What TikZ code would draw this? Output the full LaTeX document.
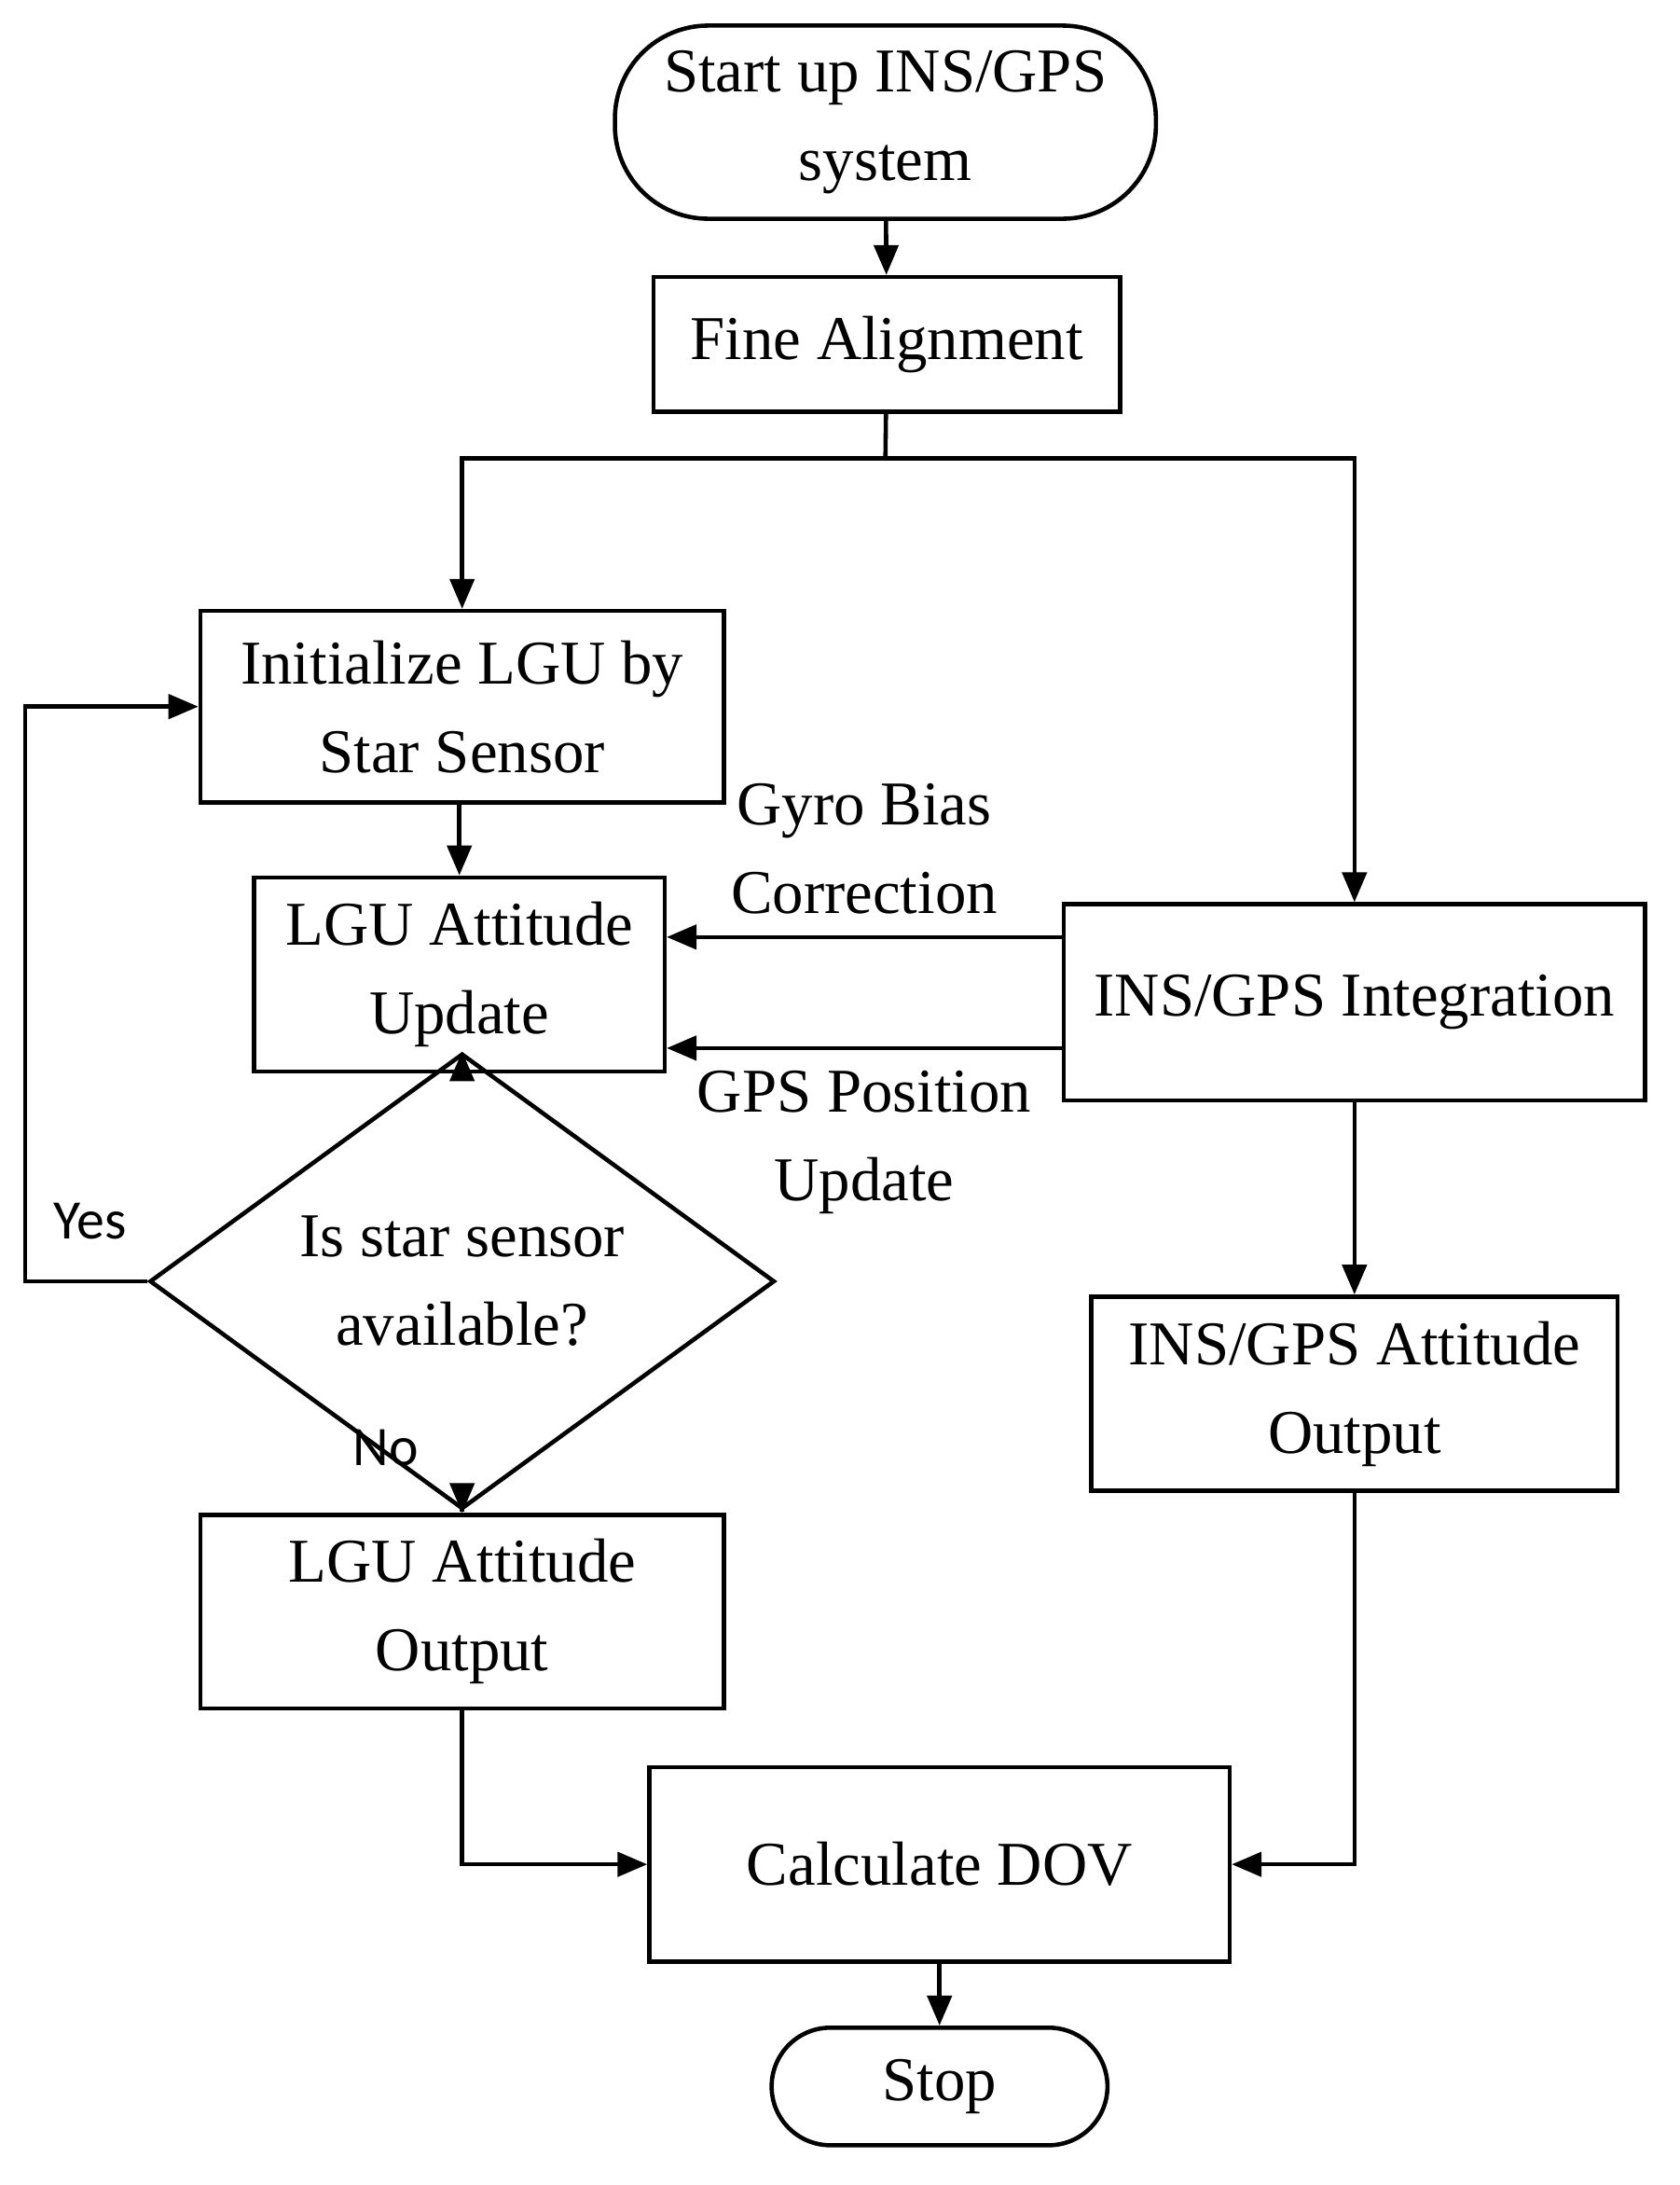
\documentclass[tikz,border=0pt]{standalone}
\usepackage{fontspec}
\setmainfont{Liberation Serif}
\newfontfamily\yesno{Carlito}
\usetikzlibrary{shapes.geometric, arrows.meta, positioning}

\begin{document}
\begin{tikzpicture}[x=0.01488cm, y=-0.01488cm, >={Triangle[length=3.2mm, width=2.6mm]}, line width=1.3pt]
    % Styles
    \tikzset{
        box/.style = {rectangle, draw, align=center, font=\fontsize{19}{27}\selectfont, inner sep=0pt},
        term/.style = {box, rounded corners=1cm},
        decision/.style = {diamond, draw, align=center, font=\fontsize{19}{27}\selectfont, inner sep=0pt},
        arrow/.style = {draw, ->},
        side/.style = {font=\fontsize{19}{27}\selectfont, align=center},
        answer/.style = {font=\yesno\fontsize{17}{20}\selectfont}
    }
    \useasboundingbox (0,0) rectangle (1210,1574);

    % Nodes
    \node[term, minimum width=5.80cm, minimum height=2.07cm] (start) at (638,88) {Start up INS/GPS\\system};
    \node[box, minimum width=5.00cm, minimum height=1.44cm] (fine) at (639,248) {Fine Alignment};
    \node[box, minimum width=5.61cm, minimum height=2.05cm] (init) at (333,509) {Initialize LGU by\\Star Sensor};
    \node[box, minimum width=4.40cm, minimum height=2.08cm] (update) at (331,702) {LGU Attitude\\Update};
    \node[box, minimum width=6.23cm, minimum height=2.10cm] (integ) at (976,722) {INS/GPS Integration};
    \node[decision, minimum width=6.70cm, minimum height=2.89cm] (avail) at (333,923) {Is star sensor\\available?};
    \node[box, minimum width=5.61cm, minimum height=2.07cm] (lguout) at (333,1161) {LGU Attitude\\Output};
    \node[box, minimum width=5.64cm, minimum height=2.08cm] (insout) at (976,1004) {INS/GPS Attitude\\Output};
    \node[box, minimum width=6.22cm, minimum height=2.08cm] (dov) at (677,1343) {Calculate DOV};
    \node[term, minimum width=3.60cm, minimum height=1.26cm, rounded corners=0.63cm] (stop) at (677,1503) {Stop};
    \coordinate (split) at (638,330);
    \coordinate (loop) at (18,923);

    % Edges
    \draw[arrow] (start) -- (fine);
    \draw (fine) -- (split);
    \draw[arrow] (split) -| (init);
    \draw[arrow] (split) -| (integ);
    \draw[arrow] (init.south -| update) -- (update);
    \draw[arrow] (integ.west |- 0,675) -- node[side, above=3pt] {Gyro Bias\\Correction} (update.east |- 0,675);
    \draw[arrow] (integ.west |- 0,755) -- node[side, below=3pt] {GPS Position\\Update} (update.east |- 0,755);
    \draw[arrow] (update.south -| avail) -- (avail);
    \draw[arrow] (avail.west) -- (loop) |- (init.west |- 0,509);
    \node[answer] at (65,880) {Yes};
    \draw[arrow] (avail.south) -- (lguout);
    \node[answer] at (278,1043) {No};
    \draw[arrow] (integ) -- (insout);
    \draw[arrow] (lguout) |- (dov);
    \draw[arrow] (insout) |- (dov);
    \draw[arrow] (dov) -- (stop);
\end{tikzpicture}
\end{document}
